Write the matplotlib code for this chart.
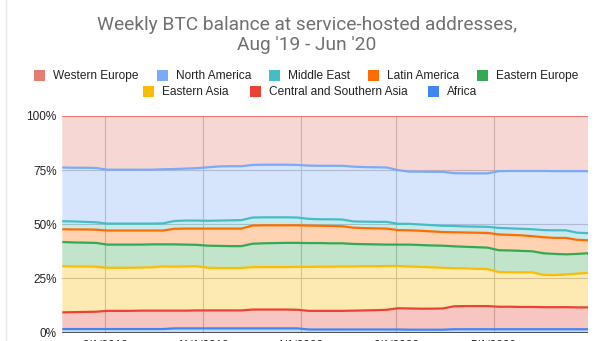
import matplotlib.pyplot as plt
import numpy as np
import pandas as pd
from matplotlib.patches import Rectangle
from matplotlib.lines import Line2D

# weekly points, Aug '19 - Jun '20
weeks = pd.date_range('2019-08-05', periods=48, freq='7D')

regions = ['Western Europe', 'North America', 'Middle East', 'Latin America',
           'Eastern Europe', 'Eastern Asia', 'Central and Southern Asia', 'Africa']
colors = ['#e67c73', '#7baaf7', '#46bdc6', '#ff6d01',
          '#34a853', '#fbbc04', '#ea4335', '#4285f4']

# share of balance in %
africa = [1.6, 1.6, 1.6, 1.6, 1.6, 1.6, 1.6, 1.6, 1.6, 1.6,
          1.9, 1.9, 1.9, 1.9, 1.9, 1.9, 1.9, 1.9, 1.9, 1.9,
          1.9, 1.9, 1.4, 1.4, 1.4, 1.4, 1.4, 1.4, 1.4, 1.4,
          1.4, 1.3, 1.3, 1.3, 1.3, 1.5, 1.5, 1.5, 1.5, 1.5,
          1.5, 1.5, 1.5, 1.5, 1.5, 1.5, 1.5, 1.5]
cs_asia = [7.7, 7.8, 7.9, 8.0, 8.4, 8.4, 8.4, 8.5, 8.5, 8.5,
           8.2, 8.2, 8.3, 8.3, 8.3, 8.3, 8.3, 8.7, 8.7, 8.7,
           8.7, 8.6, 8.6, 8.6, 8.6, 8.6, 8.7, 8.8, 8.9, 9.1,
           9.8, 9.8, 9.7, 9.7, 9.8, 10.6, 10.7, 10.7, 10.7, 10.4,
           10.4, 10.3, 10.3, 10.2, 10.2, 10.2, 10.1, 10.1]
e_asia = [21.3, 21.1, 21.0, 20.8, 19.9, 19.9, 19.9, 19.9, 20.0, 20.4,
          20.3, 20.4, 20.4, 19.7, 19.6, 19.6, 19.6, 19.6, 19.6, 19.6,
          19.6, 19.8, 20.3, 20.4, 20.4, 20.5, 20.4, 20.4, 20.3, 20.2,
          19.5, 19.4, 19.3, 19.1, 18.8, 17.6, 17.4, 17.2, 17.1, 16.0,
          15.9, 16.0, 16.0, 14.9, 14.8, 15.1, 15.6, 15.9]
e_europe = [11.2, 11.1, 11.0, 11.0, 10.7, 10.7, 10.7, 10.6, 10.6, 10.2,
            10.3, 10.1, 9.9, 10.2, 10.2, 10.1, 10.1, 10.8, 11.0, 11.1,
            11.2, 11.1, 11.0, 10.9, 10.8, 10.7, 10.4, 10.2, 10.1, 9.9,
            9.9, 10.1, 10.1, 10.1, 10.2, 10.1, 10.0, 10.0, 9.9, 10.1,
            10.1, 9.9, 9.7, 10.0, 9.8, 9.3, 9.1, 9.1]
latin = [5.9, 6.0, 6.1, 6.1, 6.5, 6.5, 6.5, 6.5, 6.4, 6.4,
         7.2, 7.4, 7.5, 7.9, 8.0, 8.1, 8.1, 8.4, 8.3, 8.2,
         8.1, 8.1, 8.1, 8.0, 8.0, 7.9, 7.5, 7.4, 7.4, 7.4,
         6.7, 6.6, 6.6, 6.5, 6.3, 6.5, 6.6, 6.7, 6.8, 7.3,
         7.2, 7.2, 7.0, 7.4, 7.4, 7.6, 6.5, 6.0]
middle_east = [3.7, 3.7, 3.5, 3.4, 3.2, 3.2, 3.2, 3.2, 3.2, 3.3,
               3.6, 3.7, 3.7, 3.6, 3.7, 3.8, 3.9, 3.7, 3.7, 3.7,
               3.7, 3.6, 3.1, 3.0, 3.1, 3.1, 2.9, 3.0, 3.0, 3.1,
               2.9, 3.0, 2.9, 2.9, 2.9, 2.9, 2.8, 2.8, 2.8, 3.0,
               3.0, 3.0, 3.2, 3.3, 3.5, 3.5, 3.3, 3.3]
n_america = [24.8, 24.8, 25.0, 25.1, 24.9, 24.9, 24.9, 24.9, 24.9, 25.0,
             24.0, 24.0, 24.2, 24.7, 25.0, 25.0, 24.9, 24.3, 24.3, 24.3,
             24.3, 24.3, 24.6, 24.7, 24.7, 24.8, 25.3, 25.2, 25.2, 25.1,
             24.8, 24.1, 24.4, 24.6, 24.9, 24.4, 24.5, 24.6, 24.7, 26.2,
             26.5, 26.7, 26.9, 27.3, 27.3, 27.3, 28.4, 28.6]
w_europe = [23.8, 23.9, 23.9, 24.0, 24.8, 24.8, 24.8, 24.8, 24.8, 24.6,
            24.5, 24.3, 24.1, 23.7, 23.3, 23.2, 23.2, 22.6, 22.5, 22.5,
            22.5, 22.6, 22.9, 23.0, 23.0, 23.0, 23.4, 23.6, 23.7, 23.8,
            25.0, 25.7, 25.7, 25.8, 25.8, 26.4, 26.5, 26.5, 26.5, 25.5,
            25.4, 25.4, 25.4, 25.4, 25.5, 25.5, 25.5, 25.5]

tick_dates = pd.to_datetime(['2019-09-01', '2019-11-01', '2020-01-01', '2020-03-01', '2020-05-01'])
tick_labels = ['9/1/2019', '11/1/2019', '1/1/2020', '3/1/2020', '5/1/2020']

# stack from the bottom up, normalise to 100%
stack = np.array([africa, cs_asia, e_asia, e_europe, latin, middle_east, n_america, w_europe])
stack = stack / stack.sum(axis=0) * 100
stack_colors = colors[::-1]

fig = plt.figure(figsize=(5.99, 3.41), dpi=100)
W, H = 599, 341
ax = fig.add_axes([62.3 / W, 1 - 332.5 / H, 526 / W, 216.5 / H])

ax.stackplot(weeks, stack, colors=stack_colors, alpha=0.3, lw=0, zorder=2)
tops = np.cumsum(stack, axis=0)
for top, c in zip(tops, stack_colors):
    ax.plot(weeks, top, color=c, lw=1.6, zorder=3, solid_capstyle='butt')

ax.axhline(0, color='#333333', lw=1.2, zorder=4)
ax.set_xlim(weeks[0], weeks[-1])
ax.set_ylim(0, 100)
ax.set_yticks([0, 25, 50, 75, 100])
ax.set_yticklabels(['0%', '25%', '50%', '75%', '100%'])
ax.set_xticks(tick_dates)
ax.set_xticklabels(tick_labels)
ax.tick_params(length=0, labelsize=8.5, labelcolor='#222222', pad=4)
ax.tick_params(axis='x', pad=5.5)
for lab in ax.get_xticklabels() + ax.get_yticklabels():
    lab.set_family('Liberation Sans')
ax.grid(color='#c4c4c4', lw=0.8, zorder=1)
ax.set_axisbelow(True)
for s in ax.spines.values():
    s.set_visible(False)

# title
fig.text(307 / W, 1 - 25 / H, 'Weekly BTC balance at service-hosted addresses,',
         ha='center', va='center', fontsize=13.8, color='#707070', family='Roboto')
fig.text(307 / W, 1 - 45 / H, "Aug '19 - Jun '20",
         ha='center', va='center', fontsize=13.8, color='#707070', family='Roboto')

# legend, two centred rows like the original
leg_rows = [
    (75.7, [(34, 0), (157, 1), (269, 2), (368, 3), (477, 4)]),
    (91.7, [(143, 5), (250, 6), (428, 7)]),
]
for y, items in leg_rows:
    for x, i in items:
        fig.add_artist(Rectangle((x / W, 1 - (y + 5.5) / H), 11 / W, 11 / H,
                                 transform=fig.transFigure, color=colors[i], lw=0))
        fig.text((x + 19) / W, 1 - y / H, regions[i], ha='left', va='center',
                 fontsize=8.6, color='#222222', family='Liberation Sans')

fig.add_artist(Line2D([6 / W, 6 / W], [0, 1], color='#e8e8e8', lw=1))

fig.savefig('out.png', dpi=100)
